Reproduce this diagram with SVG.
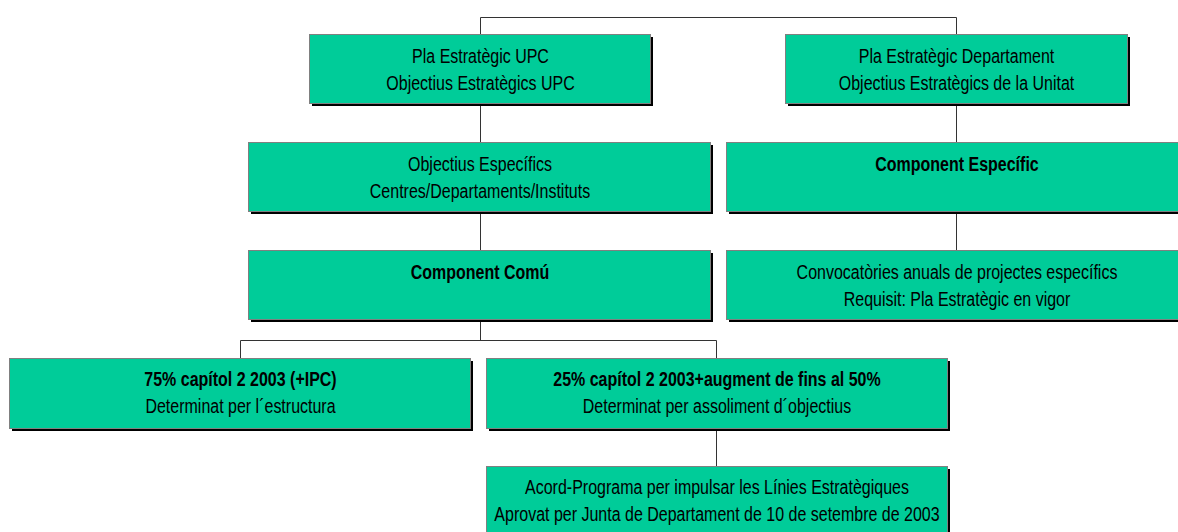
<svg xmlns="http://www.w3.org/2000/svg" width="1178" height="532" viewBox="0 0 1178 532">
<style>
.bg{fill:#ffffff}
.shadow{fill:#000000}
.box{fill:#00CC99;stroke:#808080;stroke-width:1}
.t{font-family:"Liberation Sans",Arial,sans-serif;font-size:19.5px;text-anchor:middle;fill:#000000}
.b{font-weight:bold}
.conn{fill:none;stroke:#333333;stroke-width:1}
</style>
<rect class="bg" x="0" y="0" width="1178" height="532"/>
<g id="connectors">
  <polyline class="conn" points="480.5,35 480.5,17.5 956.5,17.5 956.5,35"/>
  <line class="conn" x1="480.5" y1="104" x2="480.5" y2="143"/>
  <line class="conn" x1="956.5" y1="104" x2="956.5" y2="143"/>
  <line class="conn" x1="480.5" y1="212" x2="480.5" y2="251"/>
  <line class="conn" x1="956.5" y1="212" x2="956.5" y2="251"/>
  <polyline class="conn" points="480.5,320 480.5,340.5"/>
  <polyline class="conn" points="240.5,358 240.5,340.5 716.5,340.5 716.5,358"/>
  <line class="conn" x1="716.5" y1="428" x2="716.5" y2="466"/>
</g>
<g id="n1">
  <rect class="shadow" x="312" y="37" width="341" height="69"/>
  <rect class="box" x="309.5" y="34.5" width="341" height="69"/>
  <text class="t" transform="translate(480.5,63) scale(0.82,1)">Pla Estratègic UPC</text>
  <text class="t" transform="translate(480.5,89.5) scale(0.82,1)">Objectius Estratègics UPC</text>
</g>
<g id="n2">
  <rect class="shadow" x="788" y="37" width="342" height="69"/>
  <rect class="box" x="785.5" y="34.5" width="342" height="69"/>
  <text class="t" transform="translate(956.5,63) scale(0.82,1)">Pla Estratègic Departament</text>
  <text class="t" transform="translate(956.5,89.5) scale(0.82,1)">Objectius Estratègics de la Unitat</text>
</g>
<g id="n3">
  <rect class="shadow" x="251" y="145" width="462" height="69"/>
  <rect class="box" x="248.5" y="142.5" width="462" height="69"/>
  <text class="t" transform="translate(480,171) scale(0.82,1)">Objectius Específics</text>
  <text class="t" transform="translate(480,197.5) scale(0.82,1)">Centres/Departaments/Instituts</text>
</g>
<g id="n4">
  <rect class="shadow" x="729" y="145" width="462" height="69"/>
  <rect class="box" x="726.5" y="142.5" width="462" height="69"/>
  <text class="t b" transform="translate(957,171) scale(0.82,1)">Component Específic</text>
</g>
<g id="n5">
  <rect class="shadow" x="251" y="253" width="462" height="69"/>
  <rect class="box" x="248.5" y="250.5" width="462" height="69"/>
  <text class="t b" transform="translate(480,279) scale(0.82,1)">Component Comú</text>
</g>
<g id="n6">
  <rect class="shadow" x="729" y="253" width="462" height="69"/>
  <rect class="box" x="726.5" y="250.5" width="462" height="69"/>
  <text class="t" transform="translate(957,279) scale(0.82,1)">Convocatòries anuals de projectes específics</text>
  <text class="t" transform="translate(957,305.5) scale(0.82,1)">Requisit: Pla Estratègic en vigor</text>
</g>
<g id="n7">
  <rect class="shadow" x="12" y="361" width="461" height="70"/>
  <rect class="box" x="9.5" y="358.5" width="461" height="70"/>
  <text class="t b" transform="translate(240.5,386) scale(0.82,1)">75% capítol 2 2003 (+IPC)</text>
  <text class="t" transform="translate(240.5,412.5) scale(0.82,1)">Determinat per l´estructura</text>
</g>
<g id="n8">
  <rect class="shadow" x="489" y="361" width="461" height="70"/>
  <rect class="box" x="486.5" y="358.5" width="461" height="70"/>
  <text class="t b" transform="translate(717,386) scale(0.82,1)">25% capítol 2 2003+augment de fins al 50%</text>
  <text class="t" transform="translate(717,412.5) scale(0.82,1)">Determinat per assoliment d´objectius</text>
</g>
<g id="n9">
  <rect class="shadow" x="489" y="469" width="461" height="70"/>
  <rect class="box" x="486.5" y="466.5" width="461" height="70"/>
  <text class="t" transform="translate(717,494) scale(0.82,1)">Acord-Programa per impulsar les Línies Estratègiques</text>
  <text class="t" transform="translate(717,520.5) scale(0.82,1)">Aprovat per Junta de Departament de 10 de setembre de 2003</text>
</g>
</svg>
